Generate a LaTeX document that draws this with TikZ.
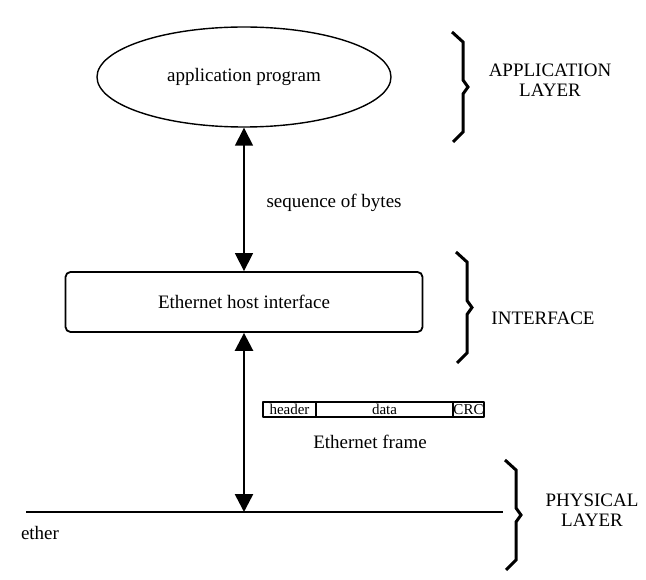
\documentclass[tikz,border=0pt]{standalone}
\usepackage{fontspec}
\setmainfont{Liberation Serif}
\usetikzlibrary{arrows.meta,positioning,shapes.geometric}
\newcommand{\layerbrace}[3]{% x, top, bottom
	\draw[line width=3pt, line join=miter] (#1,#2) -- ++(11,10) -- (#1+11,{(#2+#3)/2-7}) -- ++(5,7) -- ++(-5,7) -- (#1+11,#3-10) -- ++(-10,10);}
\begin{document}
\begin{tikzpicture}[x=1pt, y=-1pt, >={Triangle[width=18pt,length=18pt]}, line join=round,
	font=\fontsize{19}{20}\selectfont,
	prog/.style={ellipse, draw, line width=1.4pt, minimum width=294pt, minimum height=100pt},
	hostbox/.style={draw, rounded corners=5pt, line width=1.8pt, minimum width=357pt, minimum height=60pt},
	cell/.style={draw, line width=1.6pt, minimum height=15pt, inner sep=0pt, outer sep=0pt, font=\fontsize{15}{15}\selectfont},
	layer/.style={align=center}]
	\useasboundingbox (0,0) rectangle (646,580);
	\node[prog] (app) at (244,77) {application program};
	\node[hostbox] (host) at (244,302) {Ethernet host interface};
	\coordinate (ethL) at (26,512);
	\coordinate (ethR) at (503,512);
	\draw[line width=2.6pt] (ethL) -- (ethR);
	\draw[<->, line width=1.4pt] (app.south) -- (host.north);
	\draw[<->, line width=2.6pt] (host.south) -- (host.south |- ethL);
	\node[anchor=west] (seq) at (263,203) {sequence of bytes};
	% trame
	\node[cell, minimum width=53pt, anchor=west] (hdr) at (263,409.5) {header};
	\node[cell, minimum width=137pt, right=0pt of hdr] (dat) {data};
	\node[cell, minimum width=31pt, right=0pt of dat] (crc) {CRC};
	\node (frame) at (370,442) {Ethernet frame};
	\node (ether) at (40,533) {ether};
	% couches
	\node[layer] (applayer) at (550,80) {APPLICATION\\LAYER};
	\node (iflayer) at (543,318) {INTERFACE};
	\node[layer] (phylayer) at (592,510) {PHYSICAL\\LAYER};
	\layerbrace{452}{32}{142}
	\layerbrace{456}{252}{363}
	\layerbrace{505}{460}{570}
\end{tikzpicture}
\end{document}
